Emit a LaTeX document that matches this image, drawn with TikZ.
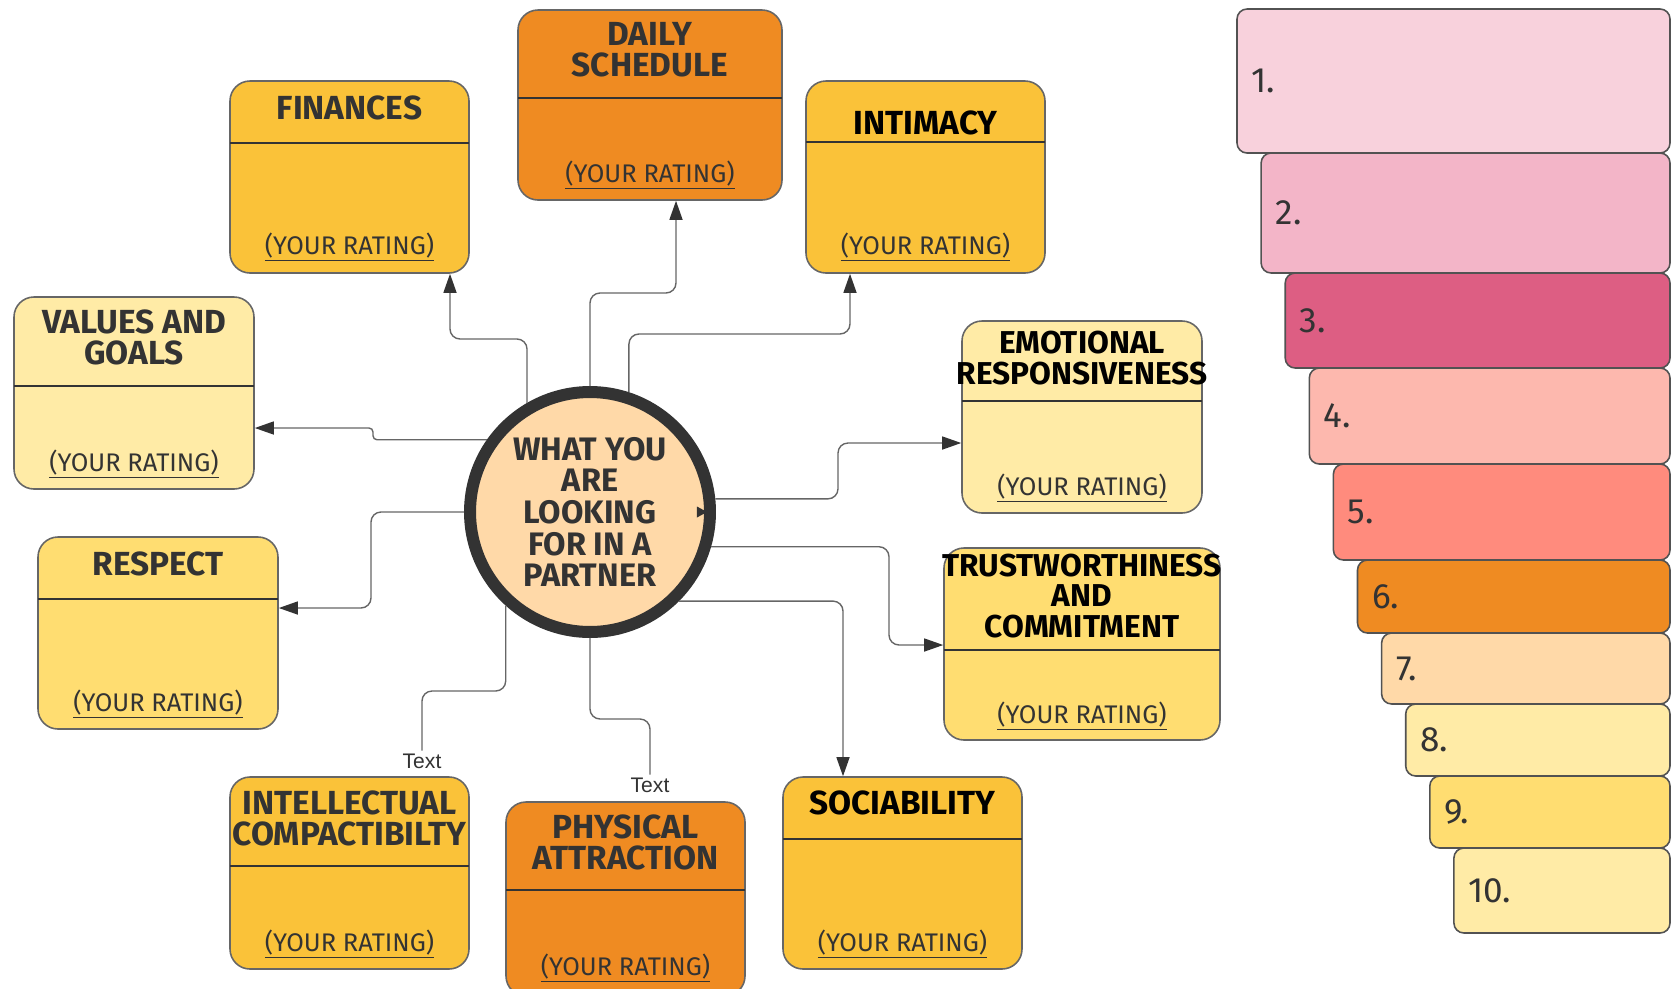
\documentclass[tikz,border=0pt]{standalone}
\usepackage{fontspec}
\setmainfont{Fira Sans}
\newfontfamily\tagfont{Liberation Sans}
\usetikzlibrary{arrows.meta}
\definecolor{ink}{HTML}{333333}
\definecolor{linegray}{HTML}{666666}
\definecolor{gold}{HTML}{FAC239}
\definecolor{tang}{HTML}{EF8B22}
\definecolor{cream}{HTML}{FFEBA6}
\definecolor{butter}{HTML}{FFDD71}
\definecolor{peach}{HTML}{FFD9A8}
\definecolor{rkA}{HTML}{F8D1DC}
\definecolor{rkB}{HTML}{F3B5C8}
\definecolor{rkC}{HTML}{DD5E83}
\definecolor{rkD}{HTML}{FDB8AE}
\definecolor{rkE}{HTML}{FF8B7D}

\begin{document}
\begin{tikzpicture}[x=0.02cm, y=-0.02cm,
    card/.style={draw=linegray, line width=0.9pt, rounded corners=0.4cm, inner sep=0pt},
    rung/.style={draw=ink!85, line width=0.9pt, rounded corners=0.2cm, inner sep=0pt},
    divider/.style={ink, line width=0.8pt},
    head/.style={font=\fontsize{19}{17.6}\selectfont\bfseries, text=ink, align=center, inner sep=0pt},
    tight/.style={font=\fontsize{18}{17.5}\selectfont\bfseries},
    rate/.style={font=\fontsize{14.5}{16}\selectfont, text=ink, inner sep=0pt, anchor=base},
    hub/.style={circle, draw=ink, fill=peach, line width=0.24cm, minimum size=4.8cm, inner sep=0pt,
                font=\fontsize{18.5}{18}\selectfont\bfseries, text=ink, align=center},
    wire/.style={linegray, line width=0.8pt, rounded corners=0.2cm},
    link/.style={wire, -{Triangle[length=0.38cm, width=0.26cm, color=ink]}},
    tag/.style={font=\tagfont\fontsize{12}{14}\selectfont, text=ink, inner sep=1.5pt},
    ranklab/.style={font=\fontsize{20}{20}\selectfont, text=ink, anchor=west, inner sep=0pt}
  ]
  \useasboundingbox (0,0) rectangle (1672,988);
  \clip (0,0) rectangle (1672,988);

  % cards: name / left / top / right / bottom / divider / colour
  \foreach \n/\xa/\ya/\xb/\yb/\yd/\col in {
      fin/230/81/469/273/143/gold, day/518/10/782/200/98/tang,
      int/806/81/1045/273/142/gold, val/14/297/254/489/386/cream,
      res/38/537/278/729/599/butter, emo/962/321/1202/513/401/cream,
      tru/944/548/1220/740/650/butter, itl/230/777/469/969/866/gold,
      phy/506/802/745/996/890/tang, soc/783/777/1022/969/839/gold} {
    \node[card, fill=\col, minimum width={(\xb-\xa)*0.02cm},
          minimum height={(\yb-\ya)*0.02cm}] (\n) at ({(\xa+\xb)/2},{(\ya+\yb)/2}) {};
    \draw[divider] (\xa,\yd) -- (\xb,\yd);
  }

  % titles
  \node[head] at (fin.north |- 0,108) {FINANCES};
  \node[head] at (day.north |- 0,50) {DAILY\\SCHEDULE};
  \node[head, text=black] at (int.north |- 0,123) {INTIMACY};
  \node[head] at (val.north |- 0,337) {VALUES AND\\GOALS};
  \node[head] at (res.north |- 0,564) {RESPECT};
  \node[head, tight, text=black] at (emo.north |- 0,358) {EMOTIONAL\\RESPONSIVENESS};
  \node[head, tight, text=black] at (tru.north |- 0,596) {TRUSTWORTHINESS\\AND\\COMMITMENT};
  \node[head] at (itl.north |- 0,818) {INTELLECTUAL\\COMPACTIBILTY};
  \node[head] at (phy.north |- 0,842) {PHYSICAL\\ATTRACTION};
  \node[head, text=black] at (soc.north |- 0,803) {SOCIABILITY};

  \foreach \n/\y in {fin/254, day/182, int/254, val/471, res/711,
                     emo/495, tru/723, itl/951, phy/975, soc/951}
    \node[rate] at (\n.south |- 0,\y) {\underline{(YOUR RATING)}};

  % centre
  \node[hub] (hub) at (590,512) {WHAT YOU\\ARE\\LOOKING\\FOR IN A\\PARTNER};
  \fill[ink] ([xshift=-0.38cm, yshift=0.11cm]hub.east) -- ([xshift=-0.18cm]hub.east)
             -- ([xshift=-0.38cm, yshift=-0.11cm]hub.east) -- cycle;

  \node[tag] (tx1) at (422,761) {Text};
  \node[tag] (tx2) at (650,785) {Text};

  % connectors
  \draw[link] (hub.120) |- (450,339) -- (450,339 |- fin.south);
  \draw[link] (hub.north) |- (676,293) -- (676,293 |- day.south);
  \draw[link] (hub.72) |- (850,334) -- (850,334 |- int.south);
  \draw[link, rounded corners=0.08cm] (hub.145) -| (373,428) -- (val.east |- 373,428);
  \draw[link] (hub.west) -| (371,608) -- (res.east |- 371,608);
  \draw[link] (hub.6) -| (838,443) -- (emo.west |- 838,443);
  \draw[link] (hub.344) -| (889,645) -- (tru.west |- 889,645);
  \draw[link] (hub.315) -| (soc.north -| 843,0);
  \draw[wire] (hub.228) |- (422,691) -- (tx1.north);
  \draw[wire] (hub.south) |- (650,719) -- (tx2.north);

  % ranking ladder
  \foreach \i/\ya/\yb/\col in {1/9/153/rkA, 2/153/273/rkB, 3/273/368/rkC,
      4/368/464/rkD, 5/464/560/rkE, 6/560/633/tang, 7/633/704/peach,
      8/704/776/cream, 9/776/848/butter, 10/848/933/cream} {
    \node[rung, fill=\col, minimum width={(433-24.1*(\i-1))*0.02cm},
          minimum height={(\yb-\ya)*0.02cm}] (r\i) at ({(2907+24.1*(\i-1))/2},{(\ya+\yb)/2}) {};
    \node[ranklab] (l\i) at ([xshift=0.3cm]r\i.west) {\i.};
  }
\end{tikzpicture}
\end{document}
